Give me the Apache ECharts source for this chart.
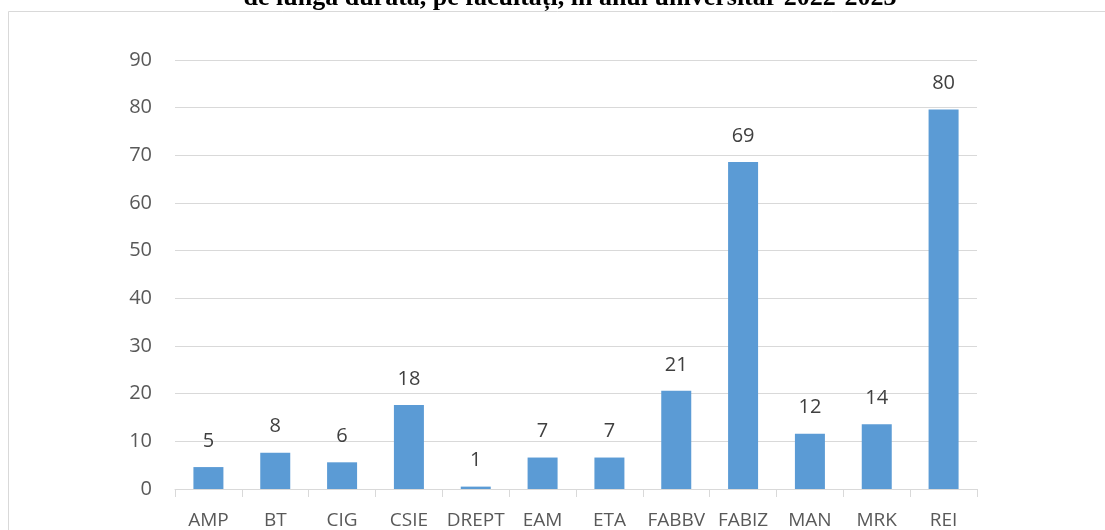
<!DOCTYPE html>
<html>
<head>
<meta charset="utf-8">
<script src="https://cdn.jsdelivr.net/npm/echarts@6/dist/echarts.min.js"></script>
<style>
  html, body { margin: 0; padding: 0; background: #ffffff; }
  #chart { width: 1105px; height: 530px; }
</style>
</head>
<body>
<div id="chart"></div>
<script>
// facultati
const categories = ["AMP", "BT", "CIG", "CSIE", "DREPT", "EAM", "ETA", "FABBV", "FABIZ", "MAN", "MRK", "REI"];
// valori (etichetele sunt rotunjite)
const values = [4.6, 7.6, 5.6, 17.6, 0.5, 6.6, 6.6, 20.6, 68.6, 11.6, 13.6, 79.6];
const yTicks = [0, 10, 20, 30, 40, 50, 60, 70, 80, 90];
const titleText = "de lungă durată, pe facultăți, în anul universitar 2022-2023";

const chartDom = document.getElementById("chart");
const myChart = echarts.init(chartDom);

const option = {
  backgroundColor: "#ffffff",
  animation: false,
  title: {
    text: titleText,
    left: 565,
    textAlign: "center",
    top: -20,
    textStyle: {
      fontFamily: "Liberation Serif",
      fontWeight: "bold",
      fontSize: 26,
      color: "#000000"
    }
  },
  graphic: [
    {
      type: "rect",
      shape: { x: 8.5, y: 11.5, width: 1110, height: 540 },
      style: { fill: "none", stroke: "#d9d9d9", lineWidth: 1 },
      silent: true
    }
  ],
  grid: {
    left: 175,
    right: 128,
    top: 60,
    bottom: 40,
    containLabel: false
  },
  xAxis: {
    type: "category",
    data: categories,
    axisLine: { lineStyle: { color: "#d9d9d9", width: 1 } },
    axisTick: { show: true, length: 8, lineStyle: { color: "#d9d9d9" } },
    axisLabel: {
      interval: 0,
      color: "#595959",
      fontFamily: "Open Sans",
      fontSize: 19,
      margin: 22
    }
  },
  yAxis: {
    type: "value",
    min: yTicks[0],
    max: yTicks[yTicks.length - 1],
    interval: 10,
    axisLine: { show: false },
    axisTick: { show: false },
    splitLine: { lineStyle: { color: "#d9d9d9", width: 1 } },
    axisLabel: {
      color: "#595959",
      fontFamily: "Open Sans",
      fontSize: 20,
      margin: 23
    }
  },
  series: [
    {
      type: "bar",
      data: values,
      barWidth: 30,
      itemStyle: { color: "#5b9bd5" },
      label: {
        show: true,
        position: "top",
        distance: 16,
        color: "#404040",
        fontFamily: "Open Sans",
        fontSize: 20,
        formatter: (p) => Math.round(p.value)
      }
    }
  ]
};

myChart.setOption(option);
</script>
</body>
</html>
